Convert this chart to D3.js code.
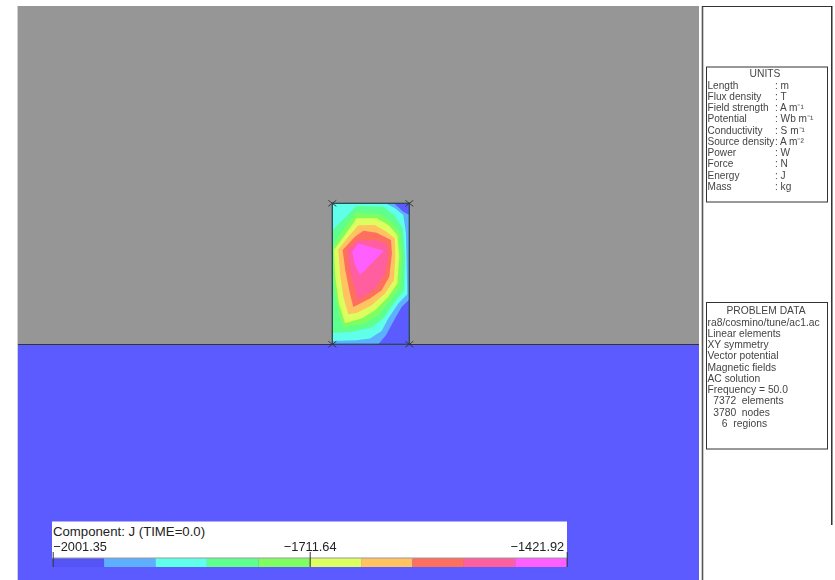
<!DOCTYPE html>
<html>
<head>
<meta charset="utf-8">
<script src="https://cdn.jsdelivr.net/npm/d3@7"></script>
<style>
	html, body { margin: 0; padding: 0; background: #fff; overflow: hidden; }
	svg { display: block; }
	text { font-family: "Liberation Sans", sans-serif; fill: #222; white-space: pre; }
</style>
</head>
<body>
<div id="chart"></div>
<script>
// Field range and the contour levels between the colour bands
let fieldRange = [-2001.35, -1421.92];
let contourLevels = [-1943.41, -1885.46, -1827.52, -1769.58, -1711.64, -1653.69, -1595.75, -1537.81, -1479.86];
let bandColors = ["#5555f6", "#5fafff", "#5fffea", "#5fff8f", "#7fff5f", "#dcff5f", "#ffc35f", "#ff6f5f", "#ff5f9f", "#ff5fff"];
let ironColor = "#5b5bff";
let tickValues = [-2001.35, -1711.64, -1421.92];
let tickLabels = ["\u22122001.35", "\u22121711.64", "\u22121421.92"];
let componentLabel = "Component: J (TIME=0.0)";

// Nested contours inside the conductor, lowest level first
let contour1 = [[37, 40], [222, 40], [250, 65], [268, 75], [268, 328], [245, 350], [225, 385], [198, 435], [175, 462], [37, 462]];
let contour2 = [[37, 40], [197, 40], [225, 55], [250, 75], [258, 130], [262, 312], [235, 340], [205, 385], [185, 422], [150, 445], [110, 450], [37, 452]];
let contour3 = [[37, 122], [70, 88], [110, 48], [190, 50], [225, 78], [248, 115], [255, 200], [253, 300], [225, 335], [190, 385], [155, 412], [95, 425], [37, 428]];
let contour4 = [[37, 172], [70, 118], [108, 68], [180, 72], [215, 95], [240, 130], [246, 200], [241, 290], [215, 325], [175, 375], [135, 400], [72, 412], [58, 375], [45, 310], [37, 240]];
let contour5 = [[42, 180], [75, 135], [110, 85], [170, 85], [205, 105], [232, 135], [238, 200], [232, 280], [205, 320], [165, 360], [125, 385], [75, 398], [57, 340], [46, 260]];
let contour6 = [[55, 178], [85, 140], [115, 106], [165, 105], [200, 125], [225, 145], [226, 200], [222, 270], [195, 310], [155, 345], [110, 368], [85, 372], [70, 320], [60, 250]];
let contour7 = [[68, 180], [105, 140], [130, 122], [170, 128], [213, 150], [216, 190], [208, 260], [185, 300], [150, 325], [100, 350], [90, 310], [76, 240]];
let contour8 = [[83, 180], [115, 150], [170, 150], [200, 162], [205, 195], [195, 250], [165, 295], [115, 328], [100, 280], [88, 230]];
let contour9 = [[97, 185], [115, 160], [192, 182], [120, 255], [104, 222]];
let contours = [contour1, contour2, contour3, contour4, contour5, contour6, contour7, contour8, contour9];

// Side panels
let unitsTitle = "UNITS";
let unitNames = ["Length", "Flux density", "Field strength", "Potential", "Conductivity", "Source density", "Power", "Force", "Energy", "Mass"];
let unitValues = ["m", "T", "A m\u207B\u00B9", "Wb m\u207B\u00B9", "S m\u207B\u00B9", "A m\u207B\u00B2", "W", "N", "J", "kg"];
let problemTitle = "PROBLEM DATA";
let problemLines = ["ra8/cosmino/tune/ac1.ac", "Linear elements", "XY symmetry", "Vector potential", "Magnetic fields", "AC solution", "Frequency = 50.0", "  7372  elements", "  3780  nodes", "     6  regions"];

let width = 835;
let height = 580;

let svg = d3.select("#chart")
	.append("svg")
	.attr("width", width)
	.attr("height", height);

let plot = svg.append("g").style("filter", "blur(0.6px)");

// Mesh coordinates of the conductor box to screen
let x = d3.scaleLinear().domain([37, 268]).range([332.3, 409.3]);
let y = d3.scaleLinear().domain([40, 462]).range([203.3, 344.3]);

let color = d3.scaleThreshold().domain(contourLevels).range(bandColors);

// Air and iron regions
plot.append("rect").attr("x", 17).attr("y", 6).attr("width", 1.5).attr("height", 574).attr("fill", "#cfcfcf");
plot.append("rect").attr("x", 18).attr("y", 6).attr("width", 681).attr("height", 339).attr("fill", "#969696");
plot.append("rect").attr("x", 18).attr("y", 345).attr("width", 681).attr("height", 235).attr("fill", ironColor);
plot.append("line").attr("x1", 18).attr("x2", 699).attr("y1", 344.5).attr("y2", 344.5).attr("stroke", "#333").attr("stroke-width", 1.2);

// Conductor
plot.append("rect")
	.attr("x", x(37)).attr("y", y(40))
	.attr("width", x(268) - x(37)).attr("height", y(462) - y(40))
	.attr("fill", ironColor);

let line = d3.line().x(d => x(d[0])).y(d => y(d[1])).curve(d3.curveLinearClosed);

plot.selectAll("path.band")
	.data(contours)
	.enter()
	.append("path")
	.attr("class", "band")
	.attr("d", line)
	.attr("fill", (d, i) => color(contourLevels[i]));

plot.append("rect")
	.attr("x", x(37)).attr("y", y(40))
	.attr("width", x(268) - x(37)).attr("height", y(462) - y(40))
	.attr("fill", "none")
	.attr("stroke", "#2a4a50")
	.attr("stroke-width", 1.3);

// Corner marks
let corners = [[37, 40], [268, 40], [37, 462], [268, 462]];
corners.forEach(function (c) {
	let px = x(c[0]), py = y(c[1]);
	[[-4, -3, 4, 3], [-4, 3, 4, -3]].forEach(function (s) {
		plot.append("line")
			.attr("x1", px + s[0]).attr("y1", py + s[1])
			.attr("x2", px + s[2]).attr("y2", py + s[3])
			.attr("stroke", "#333").attr("stroke-width", 0.9);
	});
});

// Legend
let legendX = d3.scaleLinear().domain(fieldRange).range([52.7, 566.7]);
let bandEdges = [fieldRange[0]].concat(contourLevels, [fieldRange[1]]);

let legend = svg.append("g").style("filter", "blur(0.4px)");
legend.append("rect").attr("x", 52).attr("y", 521.5).attr("width", 515).attr("height", 37).attr("fill", "#fff");
legend.selectAll("rect.swatch")
	.data(bandColors)
	.enter()
	.append("rect")
	.attr("class", "swatch")
	.attr("x", (d, i) => legendX(bandEdges[i]))
	.attr("y", 558)
	.attr("width", (d, i) => legendX(bandEdges[i + 1]) - legendX(bandEdges[i]))
	.attr("height", 9)
	.attr("fill", d => d);
legend.append("line").attr("x1", 52.7).attr("x2", 566.7).attr("y1", 558).attr("y2", 558).attr("stroke", "#999");

legend.append("text")
	.attr("x", 53).attr("y", 536)
	.style("font-size", "13.2px")
	.text(componentLabel);

let legendAxis = d3.axisTop(legendX)
	.tickValues(tickValues)
	.tickSize(15)
	.tickFormat((d, i) => tickLabels[i]);

let axisG = legend.append("g").attr("transform", "translate(0,567)").call(legendAxis);
axisG.select(".domain").remove();
axisG.selectAll("line").attr("stroke", "#333");
axisG.selectAll("text")
	.attr("y", -16)
	.attr("dy", 0)
	.attr("dx", (d, i) => [0, 0, -3][i])
	.attr("text-anchor", (d, i) => ["start", "middle", "end"][i])
	.style("font-family", '"Liberation Sans", sans-serif')
	.style("font-size", "12.8px")
	.style("fill", "#222");

// Right hand panel
let panel = svg.append("g").style("filter", "blur(0.55px)");
panel.append("line").attr("x1", 702.5).attr("x2", 702.5).attr("y1", 6).attr("y2", 580).attr("stroke", "#555").attr("stroke-width", 1.6);
panel.append("line").attr("x1", 702).attr("x2", 832).attr("y1", 6.5).attr("y2", 6.5).attr("stroke", "#333");
panel.append("line").attr("x1", 831.8).attr("x2", 831.8).attr("y1", 6).attr("y2", 525).attr("stroke", "#111").attr("stroke-width", 1.3);

panel.append("rect").attr("x", 706.5).attr("y", 67).attr("width", 121).attr("height", 135).attr("fill", "#fff").attr("stroke", "#333");
panel.append("rect").attr("x", 706.5).attr("y", 302.5).attr("width", 121).attr("height", 146.5).attr("fill", "#fff").attr("stroke", "#333");

let rowY = d3.scaleLinear().domain([0, 1]).range([0, 11.25]);

panel.append("text").attr("x", 765).attr("y", 77).attr("text-anchor", "middle").style("font-size", "10.3px").style("fill", "#444").text(unitsTitle);

panel.selectAll("text.unit-name")
	.data(unitNames)
	.enter()
	.append("text")
	.attr("class", "unit-name")
	.attr("x", 707.5)
	.attr("y", (d, i) => 88.5 + rowY(i))
	.style("font-size", "10.1px")
	.style("fill", "#444")
	.text(d => d);

panel.selectAll("text.unit-value")
	.data(unitValues)
	.enter()
	.append("text")
	.attr("class", "unit-value")
	.attr("x", 775)
	.attr("y", (d, i) => 88.5 + rowY(i))
	.style("font-size", "10.1px")
	.style("fill", "#444")
	.text(d => ": " + d);

panel.append("text").attr("x", 766).attr("y", 314).attr("text-anchor", "middle").style("font-size", "10.3px").style("fill", "#444").text(problemTitle);

panel.selectAll("text.problem-line")
	.data(problemLines)
	.enter()
	.append("text")
	.attr("class", "problem-line")
	.attr("x", 707.5)
	.attr("y", (d, i) => 325.5 + rowY(i))
	.style("font-size", "10.3px")
	.style("fill", "#444")
	.text(d => d);
</script>
</body>
</html>
